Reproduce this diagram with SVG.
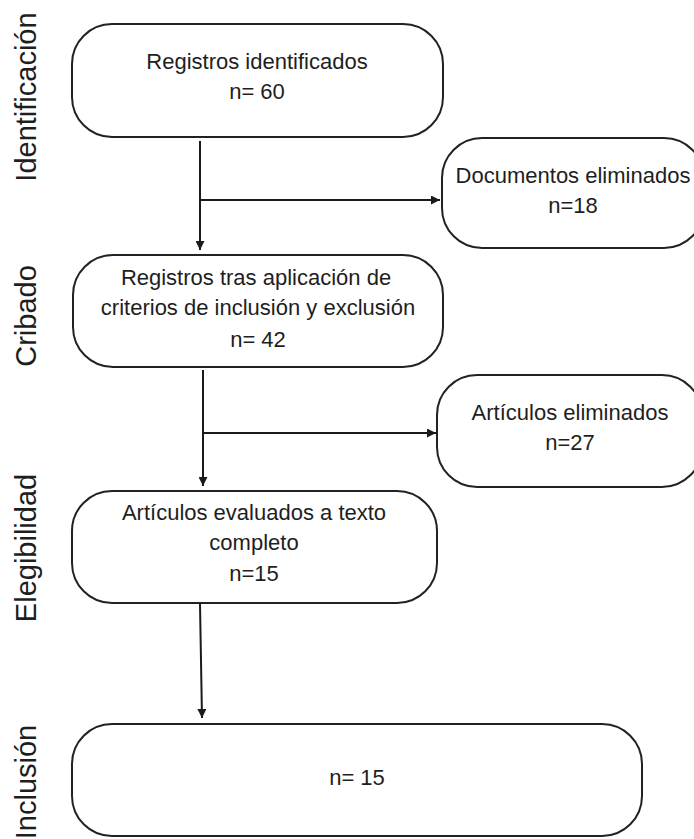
<svg xmlns="http://www.w3.org/2000/svg" width="694" height="839" viewBox="0 0 694 839">
  <style>
    .box { fill: #ffffff; stroke: #222222; stroke-width: 2; }
    .t { font-family: "Liberation Sans", Arial, sans-serif; font-size: 22px; fill: #1e1e1e; text-anchor: middle; }
    .lane { font-family: "Liberation Sans", Arial, sans-serif; font-size: 29px; fill: #1e1e1e; text-anchor: middle; }
    .conn { stroke: #1a1a1a; stroke-width: 2; fill: none; }
  </style>
  <defs>
    <marker id="arr" viewBox="0 0 10 10" refX="10" refY="5" markerWidth="4.5" markerHeight="4.5" orient="auto" markerUnits="strokeWidth">
      <path d="M0,0 L10,5 L0,10 Z" fill="#1a1a1a"/>
    </marker>
  </defs>
  <rect width="694" height="839" fill="#ffffff"/>

  <g id="lanes">
    <text class="lane" transform="translate(36,97) rotate(-90)">Identificación</text>
    <text class="lane" transform="translate(36,316) rotate(-90)">Cribado</text>
    <text class="lane" transform="translate(36,548) rotate(-90)">Elegibilidad</text>
    <text class="lane" transform="translate(36,782) rotate(-90)">Inclusión</text>
  </g>

  <g id="connectors">
    <line class="conn" x1="200" y1="141" x2="200" y2="250" marker-end="url(#arr)"/>
    <line class="conn" x1="200" y1="200" x2="440" y2="200" marker-end="url(#arr)"/>
    <line class="conn" x1="203" y1="370" x2="203" y2="486" marker-end="url(#arr)"/>
    <line class="conn" x1="202" y1="433" x2="436" y2="433" marker-end="url(#arr)"/>
    <line class="conn" x1="200" y1="604" x2="202" y2="718" marker-end="url(#arr)"/>
  </g>

  <g id="n1">
    <rect class="box" x="72" y="24" width="371" height="113" rx="40" ry="40"/>
    <text class="t" x="257" y="69">Registros identificados</text>
    <text class="t" x="257" y="99">n= 60</text>
  </g>

  <g id="n2">
    <rect class="box" x="442" y="138" width="262" height="110" rx="40" ry="40"/>
    <text class="t" x="573" y="183">Documentos eliminados</text>
    <text class="t" x="573" y="213">n=18</text>
  </g>

  <g id="n3">
    <rect class="box" x="73" y="255" width="370" height="112" rx="40" ry="40"/>
    <text class="t" x="256" y="285">Registros tras aplicación de</text>
    <text class="t" x="258" y="315">criterios de inclusión y exclusión</text>
    <text class="t" x="258" y="347">n= 42</text>
  </g>

  <g id="n4">
    <rect class="box" x="437" y="375" width="265" height="112" rx="40" ry="40"/>
    <text class="t" x="570" y="420">Artículos eliminados</text>
    <text class="t" x="570" y="450">n=27</text>
  </g>

  <g id="n5">
    <rect class="box" x="72" y="491" width="365" height="112" rx="40" ry="40"/>
    <text class="t" x="254" y="520">Artículos evaluados a texto</text>
    <text class="t" x="254" y="550">completo</text>
    <text class="t" x="254" y="581">n=15</text>
  </g>

  <g id="n6">
    <rect class="box" x="72" y="724" width="570" height="112" rx="40" ry="40"/>
    <text class="t" x="357" y="785">n= 15</text>
  </g>
</svg>
